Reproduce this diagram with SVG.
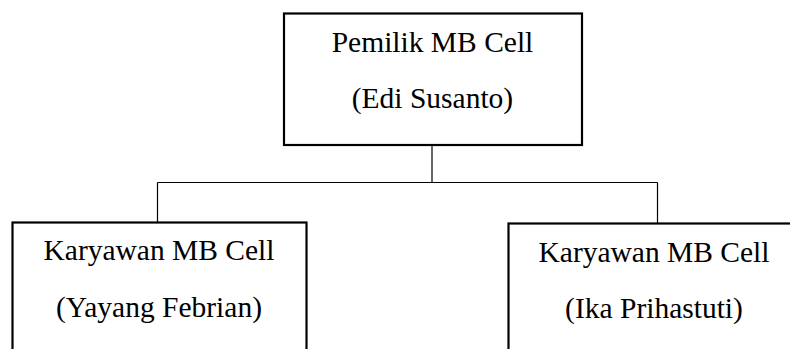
<svg xmlns="http://www.w3.org/2000/svg" width="790" height="349" viewBox="0 0 790 349">
<style>
.box{fill:#fff;stroke:#000;stroke-width:2.2}
.t{font-family:"Liberation Serif","Times New Roman",serif;font-size:29.5px;fill:#000;text-anchor:middle}
.c{fill:none;stroke:#000;stroke-width:1.2}
</style>
<rect width="790" height="349" fill="#fff"/>
<g id="connectors">
<line class="c" x1="432" y1="146" x2="432" y2="182.5"/>
<line class="c" x1="157.5" y1="182.5" x2="657.5" y2="182.5"/>
<line class="c" x1="157.5" y1="182.5" x2="157.5" y2="222"/>
<line class="c" x1="657.5" y1="182.5" x2="657.5" y2="223"/>
</g>
<g id="pemilik">
<rect class="box" x="284" y="13.5" width="298" height="131.5"/>
<text class="t" x="432.5" y="52">Pemilik MB Cell</text>
<text class="t" x="432.5" y="107.5">(Edi Susanto)</text>
</g>
<g id="karyawan1">
<rect class="box" x="12.5" y="222.5" width="294" height="150"/>
<text class="t" x="159" y="260">Karyawan MB Cell</text>
<text class="t" x="159" y="316.5">(Yayang Febrian)</text>
</g>
<g id="karyawan2">
<rect class="box" x="508.5" y="223.5" width="300" height="150"/>
<text class="t" x="654" y="262">Karyawan MB Cell</text>
<text class="t" x="654" y="318">(Ika Prihastuti)</text>
</g>
</svg>
